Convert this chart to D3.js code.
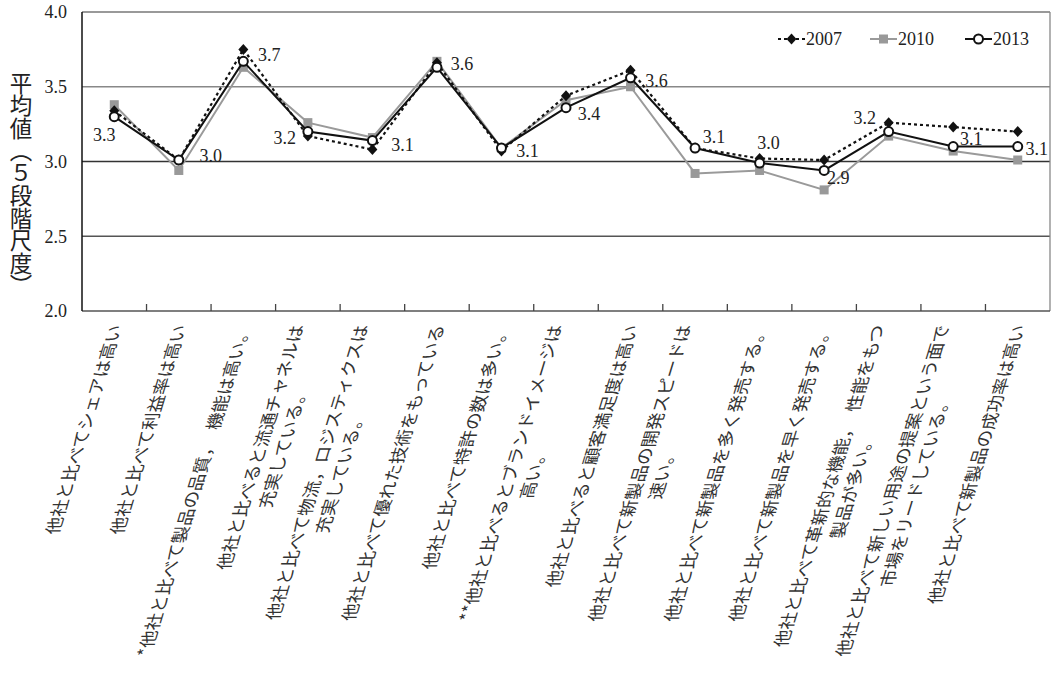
<!DOCTYPE html>
<html>
<head>
<meta charset="utf-8">
<script src="https://cdn.jsdelivr.net/npm/d3@7"></script>
<style>
  body { margin: 0; background: #fff; }
  svg { display: block; }
  .num { font-family: "Liberation Serif", "DejaVu Serif", serif; font-size: 18px; fill: #222; }
  .jp { font-family: "Noto Sans CJK JP", sans-serif; font-weight: 300; fill: #222; }
</style>
</head>
<body>
<div id="chart"></div>
<script>
// categories (each entry = lines of the tick label)
var categories = [
  ["他社と比べてシェアは高い"],
  ["他社と比べて利益率は高い"],
  ["*他社と比べて製品の品質，　機能は高い。"],
  ["他社と比べると流通チャネルは", "充実している。"],
  ["他社と比べて物流，ロジスティクスは", "充実している。"],
  ["他社と比べて優れた技術をもっている"],
  ["他社と比べて特許の数は多い。"],
  ["**他社と比べるとブランドイメージは", "高い。"],
  ["他社と比べると顧客満足度は高い"],
  ["他社と比べて新製品の開発スピードは", "速い。"],
  ["他社と比べて新製品を多く発売する。"],
  ["他社と比べて新製品を早く発売する。"],
  ["他社と比べて革新的な機能，　性能をもつ", "製品が多い。"],
  ["他社と比べて新しい用途の提案という面で", "市場をリードしている。"],
  ["他社と比べて新製品の成功率は高い"]
];

var years = ["2007", "2010", "2013"];
var v2007 = [3.34, 3.01, 3.75, 3.17, 3.08, 3.66, 3.07, 3.44, 3.61, 3.09, 3.02, 3.01, 3.26, 3.23, 3.20];
var v2010 = [3.38, 2.94, 3.63, 3.26, 3.16, 3.67, 3.09, 3.41, 3.50, 2.92, 2.94, 2.81, 3.17, 3.07, 3.01];
var v2013 = [3.30, 3.01, 3.67, 3.20, 3.14, 3.63, 3.09, 3.36, 3.56, 3.09, 2.99, 2.94, 3.20, 3.10, 3.10];
var yTicks = [2.0, 2.5, 3.0, 3.5, 4.0];
var yTitle = "平均値（５段階尺度）";

// where each value label sits relative to its 2013 point
var labelOffset = [[-10, 18], [32, -4], [26, -6], [-23, 6], [30, 4], [25, -3], [26, 3], [23, 6],
                   [26, 3], [19, -11], [9, -20], [14, 8], [-24, -14], [18, -8], [19, 2]];

var W = 1052, H = 676;
var plotL = 82, plotR = 1050, plotT = 12, plotB = 311;

var svg = d3.select("#chart").append("svg")
    .attr("width", W)
    .attr("height", H);

var x = d3.scaleBand()
    .domain(d3.range(categories.length))
    .range([plotL, plotR]);
var y = d3.scaleLinear()
    .domain([2, 4])
    .range([plotB, plotT]);
var cx = function (i) { return x(i) + x.bandwidth() / 2; };

// grid lines
var gridColor = { "2.5": "#555", "3": "#333", "3.5": "#888" };
svg.selectAll("line.grid")
    .data([2.5, 3.0, 3.5])
    .enter().append("line")
    .attr("class", "grid")
    .attr("x1", plotL).attr("x2", plotR)
    .attr("y1", function (d) { return y(d); })
    .attr("y2", function (d) { return y(d); })
    .attr("stroke", function (d) { return gridColor[String(d)]; })
    .attr("stroke-width", 1.3);

// frame
svg.append("line").attr("x1", plotL).attr("x2", plotR).attr("y1", y(4)).attr("y2", y(4))
    .attr("stroke", "#777").attr("stroke-width", 1.3);
svg.append("line").attr("x1", plotR).attr("x2", plotR).attr("y1", y(4)).attr("y2", y(2))
    .attr("stroke", "#888").attr("stroke-width", 1.3);
svg.append("line").attr("x1", plotL).attr("x2", plotR).attr("y1", y(2)).attr("y2", y(2))
    .attr("stroke", "#555").attr("stroke-width", 1.5);
svg.append("line").attr("x1", plotL).attr("x2", plotL).attr("y1", y(4)).attr("y2", y(2))
    .attr("stroke", "#111").attr("stroke-width", 1.5);

// category boundary ticks
svg.selectAll("line.xtick")
    .data(d3.range(1, categories.length))
    .enter().append("line")
    .attr("class", "xtick")
    .attr("x1", function (i) { return x(i); })
    .attr("x2", function (i) { return x(i); })
    .attr("y1", y(2)).attr("y2", y(2) - 7)
    .attr("stroke", "#444").attr("stroke-width", 1.3);

// y axis labels
var yAxis = d3.axisLeft(y)
    .tickValues(yTicks)
    .tickFormat(d3.format(".1f"))
    .tickSize(0)
    .tickPadding(15);
var ga = svg.append("g")
    .attr("transform", "translate(" + plotL + ",0)")
    .call(yAxis);
ga.attr("font-size", null).attr("font-family", null);
ga.select(".domain").remove();
ga.selectAll("text")
    .attr("class", "num")
    .style("fill", "#222");

// y title, vertical
svg.append("text")
    .attr("class", "jp")
    .attr("x", 21).attr("y", 72)
    .style("writing-mode", "vertical-rl")
    .style("text-orientation", "upright")
    .style("font-size", "22.5px")
    .style("font-weight", 400)
    .text(yTitle);

// category labels: vertical text sheared to lean like the reference
categories.forEach(function (lines, i) {
    var g = svg.append("g")
        .attr("transform", "translate(" + cx(i) + ",325) skewX(-17) rotate(-90)");
    var texts = g.selectAll("text")
        .data(lines)
        .enter().append("text")
        .attr("class", "jp")
        .style("font-size", "17.5px")
        .style("font-weight", 400)
        .style("fill", "#333")
        .attr("dominant-baseline", "central")
        .attr("text-anchor", "middle")
        .attr("y", function (d, k) { return (k - (lines.length - 1) / 2) * 23; })
        .text(function (d) { return d; });
    var wMax = d3.max(texts.nodes(), function (n) { return n.getComputedTextLength(); });
    texts.attr("x", -wMax / 2);
});

// series
var line = d3.line()
    .x(function (d, i) { return cx(i); })
    .y(function (d) { return y(d); });

svg.append("path").datum(v2010)
    .attr("d", line).attr("fill", "none")
    .attr("stroke", "#9a9a9a").attr("stroke-width", 2);
svg.selectAll("rect.s2010")
    .data(v2010)
    .enter().append("rect")
    .attr("class", "s2010")
    .attr("x", function (d, i) { return cx(i) - 4.5; })
    .attr("y", function (d) { return y(d) - 4.5; })
    .attr("width", 9).attr("height", 9)
    .attr("fill", "#999");

svg.append("path").datum(v2007)
    .attr("d", line).attr("fill", "none")
    .attr("stroke", "#111").attr("stroke-width", 2.2)
    .attr("stroke-dasharray", "3,3");
var diamond = "M0,-5.5L5,0L0,5.5L-5,0Z";
svg.selectAll("path.s2007")
    .data(v2007)
    .enter().append("path")
    .attr("class", "s2007")
    .attr("d", diamond)
    .attr("transform", function (d, i) { return "translate(" + cx(i) + "," + y(d) + ")"; })
    .attr("fill", "#111");

svg.append("path").datum(v2013)
    .attr("d", line).attr("fill", "none")
    .attr("stroke", "#111").attr("stroke-width", 2);
svg.selectAll("circle.s2013")
    .data(v2013)
    .enter().append("circle")
    .attr("class", "s2013")
    .attr("cx", function (d, i) { return cx(i); })
    .attr("cy", function (d) { return y(d); })
    .attr("r", 4.5)
    .attr("fill", "#fff")
    .attr("stroke", "#111").attr("stroke-width", 2);

// value labels (2013)
svg.selectAll("text.val")
    .data(v2013)
    .enter().append("text")
    .attr("class", "num val")
    .attr("text-anchor", "middle")
    .attr("dominant-baseline", "central")
    .attr("x", function (d, i) { return cx(i) + labelOffset[i][0]; })
    .attr("y", function (d, i) { return y(d) + labelOffset[i][1]; })
    .text(function (d) { return d3.format(".1f")(d); });

// legend
var legendX = [778, 870, 965];
var lg = svg.selectAll("g.legend")
    .data(years)
    .enter().append("g")
    .attr("class", "legend")
    .attr("transform", function (d, i) { return "translate(" + legendX[i] + ",39)"; });

lg.append("line")
    .attr("x1", 0).attr("x2", 27).attr("y1", 0).attr("y2", 0)
    .attr("stroke", function (d, i) { return i === 1 ? "#9a9a9a" : "#111"; })
    .attr("stroke-width", 2)
    .attr("stroke-dasharray", function (d, i) { return i === 0 ? "3,3" : null; });
lg.filter(function (d, i) { return i === 0; }).append("path")
    .attr("d", diamond).attr("transform", "translate(13.5,0)").attr("fill", "#111");
lg.filter(function (d, i) { return i === 1; }).append("rect")
    .attr("x", 9).attr("y", -4.5).attr("width", 9).attr("height", 9).attr("fill", "#999");
lg.filter(function (d, i) { return i === 2; }).append("circle")
    .attr("cx", 13.5).attr("cy", 0).attr("r", 4.5)
    .attr("fill", "#fff").attr("stroke", "#111").attr("stroke-width", 2);
lg.append("text")
    .attr("class", "num")
    .attr("x", 28)
    .attr("dominant-baseline", "central")
    .text(function (d) { return d; });
</script>
</body>
</html>
